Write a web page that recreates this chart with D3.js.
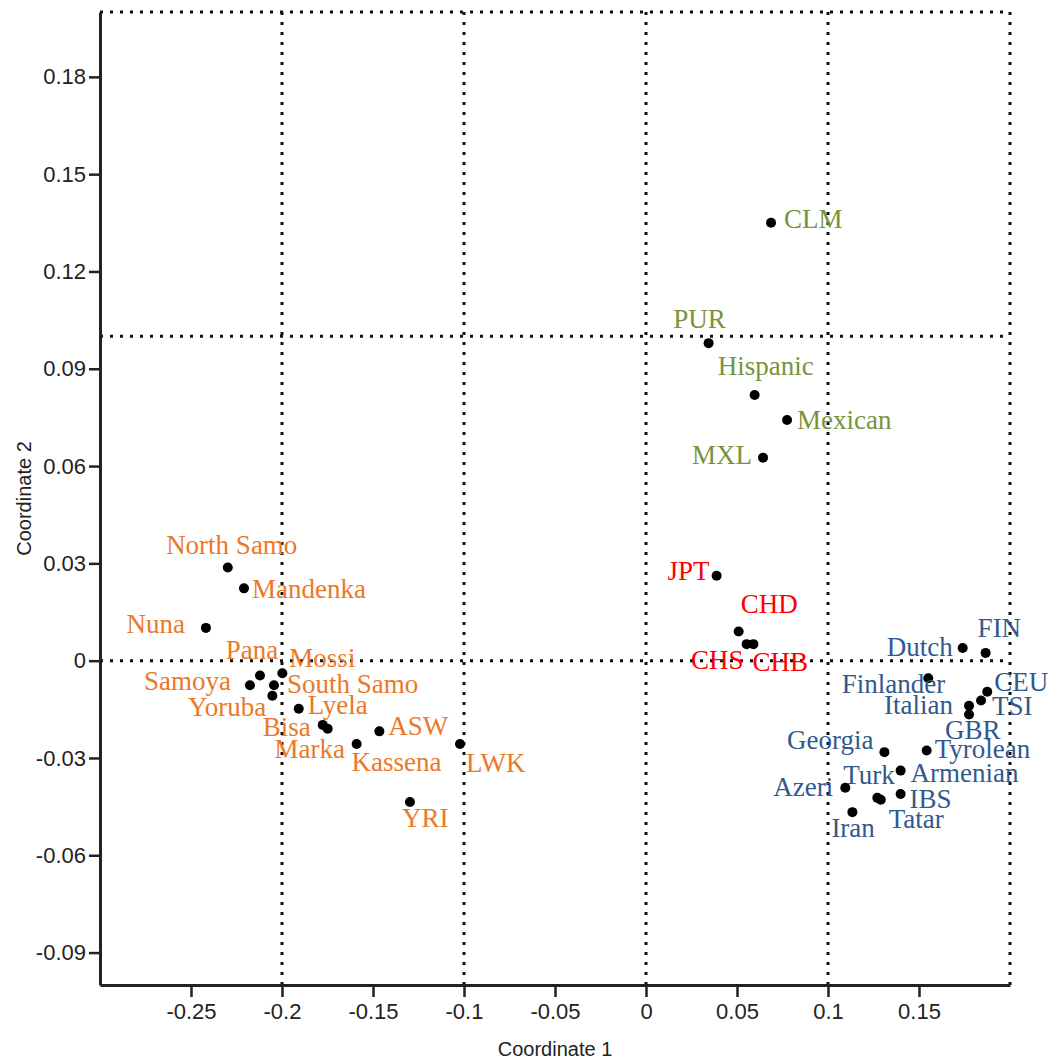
<!DOCTYPE html>
<html>
<head>
<meta charset="utf-8">
<style>
  body { margin: 0; background: #fff; }
  .lbl { font-family: "Liberation Serif", "Times New Roman", serif; font-size: 27px; }
  .ytick text, .xtick text { font-family: "Liberation Sans", Arial, sans-serif; font-size: 22px; fill: #222; }
  .title { font-family: "Liberation Sans", Arial, sans-serif; font-size: 20px; fill: #222; }
</style>
</head>
<body>
<svg width="1050" height="1061"></svg>
<script src="https://d3js.org/d3.v7.min.js"></script>
<script>

// populations, MDS coordinates
var names = ["North Samo", "Mandenka", "Nuna", "Pana", "Mossi", "Samoya", "South Samo", "Yoruba",
             "Lyela", "Bisa", "Marka", "Kassena", "ASW", "LWK", "YRI",
             "JPT", "CHD", "CHS", "CHB",
             "CLM", "PUR", "Hispanic", "Mexican", "MXL",
             "FIN", "Dutch", "Finlander", "CEU", "TSI", "Italian", "GBR", "Georgia", "Tyrolean",
             "Armenian", "Turk", "Azeri", "Tatar", "IBS", "Iran"];
var coord1 = [-0.2298, -0.2209, -0.2418, -0.2121, -0.1998, -0.2176, -0.2044, -0.2053,
              -0.1908, -0.1776, -0.1749, -0.1590, -0.1465, -0.1022, -0.1297,
              0.0388, 0.0509, 0.0553, 0.0590,
              0.0687, 0.0344, 0.0597, 0.0775, 0.0643,
              0.1866, 0.1740, 0.1551, 0.1875, 0.1841, 0.1775, 0.1775, 0.1310, 0.1542,
              0.1399, 0.1271, 0.1095, 0.1290, 0.1399, 0.1134];
var coord2 = [0.0287, 0.0223, 0.0101, -0.0046, -0.0039, -0.0076, -0.0076, -0.0108,
              -0.0148, -0.0198, -0.0210, -0.0257, -0.0218, -0.0257, -0.0436,
              0.0262, 0.0090, 0.0051, 0.0051,
              0.1350, 0.0979, 0.0819, 0.0742, 0.0626,
              0.0024, 0.0039, -0.0054, -0.0096, -0.0123, -0.0139, -0.0166, -0.0282, -0.0277,
              -0.0339, -0.0423, -0.0392, -0.0429, -0.0411, -0.0467];
var groups = ["africa", "africa", "africa", "africa", "africa", "africa", "africa", "africa",
              "africa", "africa", "africa", "africa", "africa", "africa", "africa",
              "eastasia", "eastasia", "eastasia", "eastasia",
              "america", "america", "america", "america", "america",
              "europe", "europe", "europe", "europe", "europe", "europe", "europe", "europe", "europe",
              "europe", "europe", "europe", "europe", "europe", "europe"];

var xTicks = [-0.25, -0.2, -0.15, -0.1, -0.05, 0, 0.05, 0.1, 0.15];
var xTickLabels = ["-0.25", "-0.2", "-0.15", "-0.1", "-0.05", "0", "0.05", "0.1", "0.15"];
var yTicks = [-0.09, -0.06, -0.03, 0, 0.03, 0.06, 0.09, 0.12, 0.15, 0.18];
var yTickLabels = ["-0.09", "-0.06", "-0.03", "0", "0.03", "0.06", "0.09", "0.12", "0.15", "0.18"];
var gridX = [-0.2, -0.1, 0, 0.1, 0.2];
var gridY = [0, 0.1, 0.2];

// where each label sits relative to its dot: [dx, dy, anchor]
var labelPos = {
  "North Samo": [4, -14, "middle"], "Mandenka": [8, 10, "start"], "Nuna": [-21, 5, "end"],
  "Pana": [-8, -17, "middle"], "Mossi": [7, -6, "start"], "Samoya": [-19, 5, "end"],
  "South Samo": [13, 8, "start"], "Yoruba": [-6, 20, "end"], "Lyela": [9, 5, "start"],
  "Bisa": [-12, 11, "end"], "Marka": [-18, 29, "middle"], "Kassena": [-5, 27, "start"],
  "ASW": [9, 4, "start"], "LWK": [6, 28, "start"], "YRI": [-8, 25, "start"],
  "JPT": [-7, 4, "end"], "CHD": [2, -18, "start"], "CHS": [-3, 25, "end"], "CHB": [-1, 27, "start"],
  "CLM": [13, 5, "start"], "PUR": [-9, -15, "middle"], "Hispanic": [11, -20, "middle"],
  "Mexican": [10, 9, "start"], "MXL": [-11, 6, "end"],
  "FIN": [-8, -16, "start"], "Dutch": [-10, 8, "end"], "Finlander": [17, 15, "end"],
  "CEU": [7, -1, "start"], "TSI": [11, 14, "start"], "Italian": [-16, 8, "end"],
  "GBR": [-24, 24, "start"], "Georgia": [-11, -3, "end"], "Tyrolean": [8, 7, "start"],
  "Armenian": [10, 11, "start"], "Turk": [-34, -14, "start"], "Azeri": [-12, 8, "end"],
  "Tatar": [8, 28, "start"], "IBS": [9, 14, "start"], "Iran": [-21, 25, "start"]
};

var color = d3.scaleOrdinal()
    .domain(["africa", "eastasia", "america", "europe"])
    .range(["#EC7827", "#FF0000", "#77933C", "#30598E"]);

var svg = d3.select("svg"),
    margin = {top: 12, right: 40, bottom: 76, left: 100},
    width = +svg.attr("width") - margin.left - margin.right,
    height = +svg.attr("height") - margin.top - margin.bottom,
    g = svg.append("g").attr("transform", "translate(" + margin.left + "," + margin.top + ")");

var x = d3.scaleLinear()
    .domain([-0.3, 0.2])
    .range([0, width]);

var y = d3.scaleLinear()
    .domain([-0.1, 0.2])
    .range([height, 0]);

// dotted reference lines
g.selectAll(".gx")
    .data(gridX)
  .enter().append("line")
    .attr("x1", function(d) { return x(d); })
    .attr("x2", function(d) { return x(d); })
    .attr("y1", 0)
    .attr("y2", height)
    .attr("stroke", "#111")
    .attr("stroke-width", 3)
    .attr("stroke-dasharray", "3,7");

g.selectAll(".gy")
    .data(gridY)
  .enter().append("line")
    .attr("x1", 0)
    .attr("x2", width)
    .attr("y1", function(d) { return y(d); })
    .attr("y2", function(d) { return y(d); })
    .attr("stroke", "#111")
    .attr("stroke-width", 3)
    .attr("stroke-dasharray", "3,7");

g.append("g")
    .attr("class", "xtick")
    .attr("transform", "translate(0," + height + ")")
    .call(d3.axisBottom(x)
      .tickValues(xTicks)
      .tickFormat(function(d, i) { return xTickLabels[i]; })
      .tickSize(12)
      .tickSizeOuter(0)
      .tickPadding(6));

g.append("g")
    .attr("class", "ytick")
    .call(d3.axisLeft(y)
      .tickValues(yTicks)
      .tickFormat(function(d, i) { return yTickLabels[i]; })
      .tickSize(11)
      .tickSizeOuter(0)
      .tickPadding(3));

svg.selectAll(".domain").attr("stroke", "#222").attr("stroke-width", 3);
svg.selectAll(".tick line").attr("stroke", "#222").attr("stroke-width", 2.5);

svg.append("text")
    .attr("class", "title")
    .attr("x", margin.left + x(-0.05))
    .attr("y", 1056)
    .attr("text-anchor", "middle")
    .text("Coordinate 1");

svg.append("text")
    .attr("class", "title")
    .attr("transform", "translate(31," + (margin.top + y(0.05)) + ") rotate(-90)")
    .attr("text-anchor", "middle")
    .text("Coordinate 2");

// points and labels
var idx = d3.range(names.length);

g.selectAll(".dot")
    .data(idx)
  .enter().append("circle")
    .attr("cx", function(i) { return x(coord1[i]); })
    .attr("cy", function(i) { return y(coord2[i]); })
    .attr("r", 5)
    .attr("fill", "#000");

g.selectAll(".lbl")
    .data(idx)
  .enter().append("text")
    .attr("class", "lbl")
    .attr("x", function(i) { return x(coord1[i]) + labelPos[names[i]][0]; })
    .attr("y", function(i) { return y(coord2[i]) + labelPos[names[i]][1]; })
    .attr("text-anchor", function(i) { return labelPos[names[i]][2]; })
    .attr("fill", function(i) { return color(groups[i]); })
    .text(function(i) { return names[i]; });

</script>
</body>
</html>
